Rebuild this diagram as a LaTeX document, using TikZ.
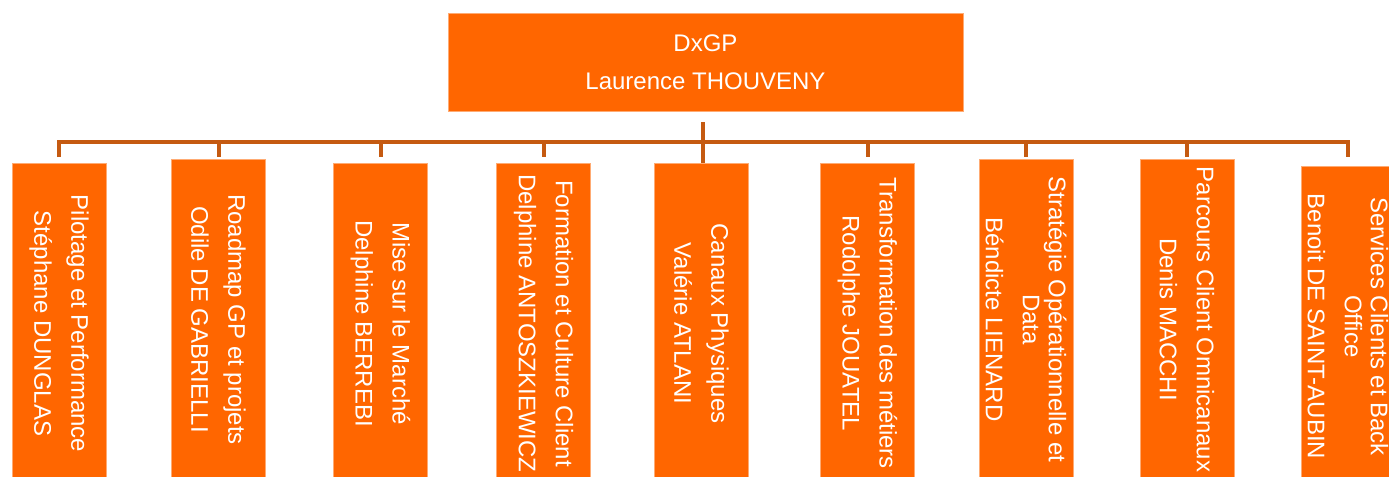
\documentclass[tikz,border=0pt]{standalone}
\usepackage{fontspec}
\setmainfont{Liberation Sans}
\usepackage{tikz}
\usetikzlibrary{positioning,calc}
\definecolor{gporange}{RGB}{255,102,0}
\definecolor{gpline}{RGB}{197,90,17}
\tikzset{
  head/.style={draw=gporange!55!white,line width=0.4pt,fill=gporange,text=white,
            minimum width=257.5pt,minimum height=49pt,inner sep=0pt,
            align=center,font=\fontsize{12}{13}\selectfont},
  unit/.style={head,rotate=-90,anchor=west,minimum width=160pt,minimum height=47pt},
  tie/.style={draw=gpline,line width=2pt},
}

\begin{document}
\begin{tikzpicture}[x=0.5pt,y=-0.5pt]
  \useasboundingbox (0,0) rectangle (1389,477);
  \clip (0,0) rectangle (1389,477);
  % direction
  \node[head] (gp) at (705.5,62) {DxGP\\[6pt]Laurence THOUVENY};
  % departments, top edge given
  \node[unit] (c1) at (59,163) {Pilotage et Performance\\[5.5pt]Stéphane DUNGLAS};
  \node[unit] (c2) at (218.5,159) {Roadmap GP et projets\\[5.5pt]Odile DE GABRIELLI};
  \node[unit] (c3) at (380.5,163) {Mise sur le Marché\\[5.5pt]Delphine BERREBI};
  \node[unit] (c4) at (543.5,163) {Formation et Culture Client\\[5.5pt]Delphine ANTOSZKIEWICZ};
  \node[unit] (c5) at (701.5,163) {Canaux Physiques\\[5.5pt]Valérie ATLANI};
  \node[unit] (c6) at (867.5,163) {Transformation des métiers\\[5.5pt]Rodolphe JOUATEL};
  \node[unit] (c7) at (1026,159) {Stratégie Opérationnelle et\\Data\\[5.5pt]Béndicte LIENARD};
  \node[unit] (c8) at (1187,159) {Parcours Client Omnicanaux\\[5.5pt]Denis MACCHI};
  \node[unit] (c9) at (1348,166) {Services Clients et Back\\Office\\[5.5pt]Benoit DE SAINT-AUBIN};
  % bus
  \coordinate (gpstub) at (703,122);
  \coordinate (bus) at (703,142);
  \coordinate (stubend) at (0,157);
  \draw[tie] (gpstub) -- (gpstub |- c5.west);
  \draw[tie] (c1.west |- stubend) |- (bus) -| (c9.west |- stubend);
  \draw[tie] (c2.west |- bus) -- (c2.west |- stubend);
  \draw[tie] (c3.west |- bus) -- (c3.west |- stubend);
  \draw[tie] (c4.west |- bus) -- (c4.west |- stubend);
  \draw[tie] (c6.west |- bus) -- (c6.west |- stubend);
  \draw[tie] (c7.west |- bus) -- (c7.west |- stubend);
  \draw[tie] (c8.west |- bus) -- (c8.west |- stubend);
\end{tikzpicture}
\end{document}
